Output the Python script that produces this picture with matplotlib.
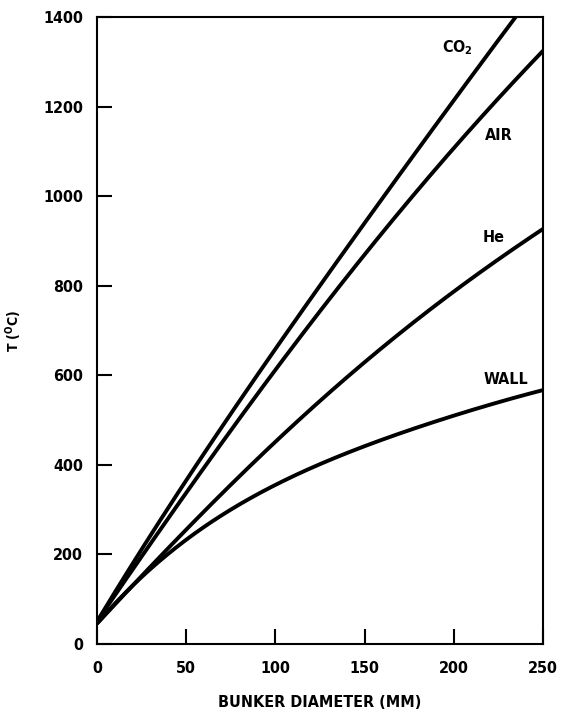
import numpy as np
import matplotlib.pyplot as plt

# bunker diameter (mm) and gas / wall temperatures (deg C)
diameter = [0, 25, 50, 75, 100, 125, 150, 175, 200, 225, 250]
t_co2 = [50, 210, 365, 515, 660, 800, 940, 1078, 1215, 1350, 1482]
t_air = [50, 195, 338, 476, 612, 745, 870, 990, 1108, 1220, 1325]
t_he = [45, 152, 255, 355, 452, 543, 630, 710, 787, 860, 927]
t_wall = [45, 150, 232, 300, 355, 402, 442, 477, 510, 540, 567]

plt.rcParams['font.family'] = ['DejaVu Sans']
plt.rcParams['font.stretch'] = 'condensed'
plt.rcParams['font.weight'] = 'bold'
plt.rcParams['mathtext.fontset'] = 'custom'
plt.rcParams['mathtext.rm'] = 'DejaVu Sans:bold'
plt.rcParams['mathtext.it'] = 'DejaVu Sans:bold'
plt.rcParams['mathtext.bf'] = 'DejaVu Sans:bold'

fig = plt.figure(figsize=(5.67, 7.17), dpi=100)
ax = fig.add_axes([0.171, 0.102, 0.787, 0.874])

def smooth(x, y):
    xs = np.linspace(x[0], x[-1], 300)
    coef = np.polyfit(x, y, 4)
    return xs, np.polyval(coef, xs)

for series in (t_co2, t_air, t_he, t_wall):
    xs, ys = smooth(diameter, series)
    ax.plot(xs, ys, color='black', lw=2.8, solid_capstyle='butt')

ax.set_xlim(0, 250)
ax.set_ylim(0, 1400)
ax.set_xticks([0, 50, 100, 150, 200, 250])
ax.set_yticks(range(0, 1401, 200))
ax.tick_params(direction='in', length=11, width=1.5, labelsize=11.5)
ax.tick_params(axis='x', pad=12)
ax.tick_params(axis='y', pad=10)
for s in ax.spines.values():
    s.set_linewidth(1.5)

ax.set_xlabel('BUNKER DIAMETER (MM)', fontsize=11.5, fontweight='bold', labelpad=14)
ax.set_ylabel(r'T ($^{\mathrm{O}}$C)', fontsize=10, fontweight='bold')
ax.yaxis.set_label_coords(-0.163, 0.5)

ax.text(202, 1331, r'CO$_2$', fontsize=11.5, ha='center', va='center')
ax.text(225, 1136, 'AIR', fontsize=11.5, ha='center', va='center')
ax.text(222, 907, 'He', fontsize=11.5, ha='center', va='center')
ax.text(229, 591, 'WALL', fontsize=11.5, ha='center', va='center')

fig.savefig('out.png', dpi=100)
